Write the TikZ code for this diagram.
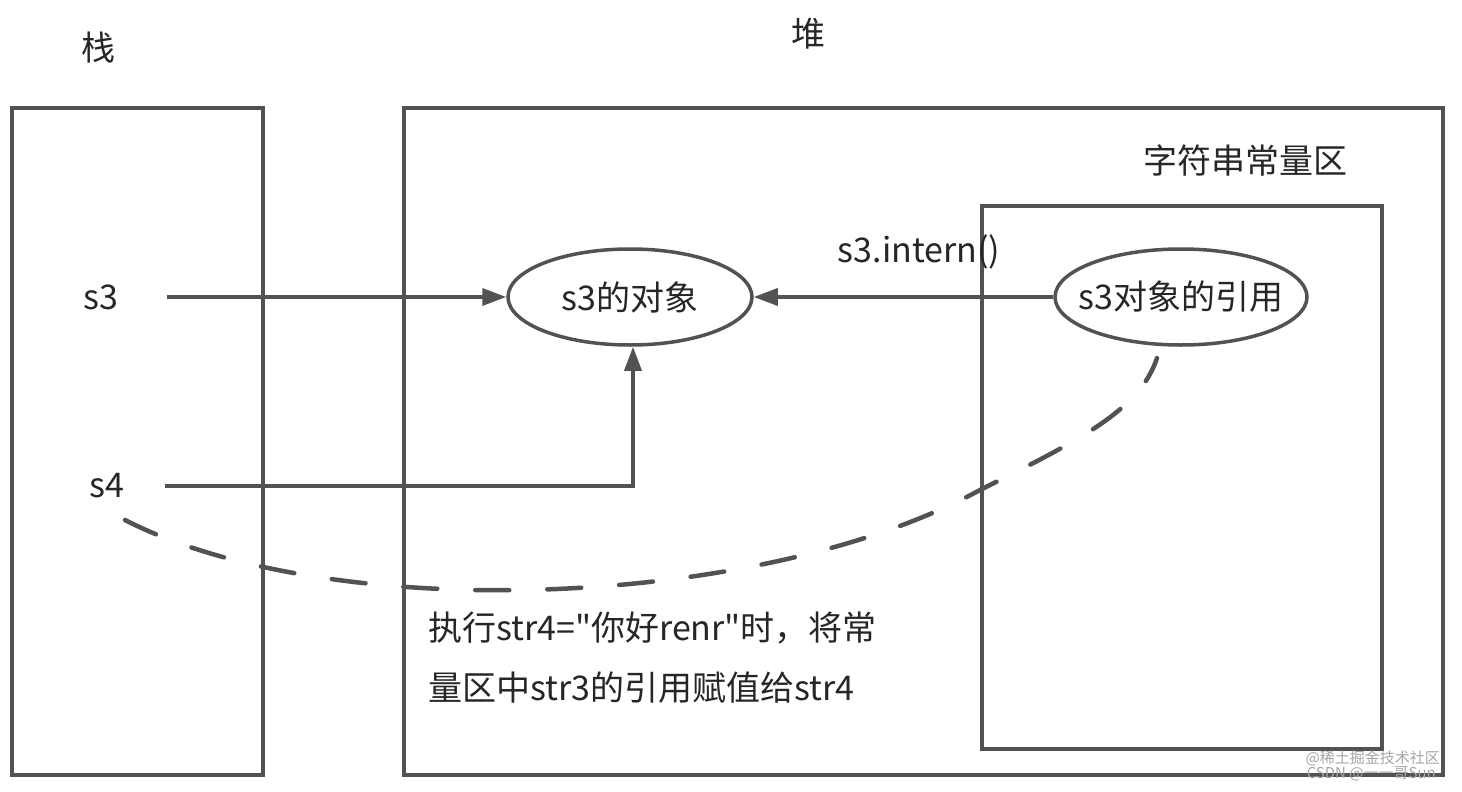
\documentclass[tikz,border=0pt]{standalone}
\usepackage{fontspec}
\setmainfont{Noto Sans CJK SC}[Ligatures=TeXOff]
\usetikzlibrary{arrows.meta,shapes.geometric}
\begin{document}
\begin{tikzpicture}[x=1pt,y=-1pt,
  box/.style={draw=black!68, line width=3.5pt},
  lbl/.style={font=\fontsize{34}{40}\selectfont, text=black!85, inner sep=0pt},
  notelbl/.style={font=\fontsize{34}{40}\selectfont, text=black!85, inner sep=0pt},
  oval/.style={ellipse, draw=black!68, line width=3.5pt, minimum width=244pt, minimum height=96pt, inner sep=0pt, font=\fontsize{34}{40}\selectfont, text=black!85},
  conn/.style={draw=black!68, line width=3.5pt, -{Triangle[length=24pt,width=17pt]}},
  dashcurve/.style={draw=black!68, line width=4.5pt, line cap=round, dash pattern=on 34pt off 38pt},
  wm/.style={font=\fontsize{15}{16}\selectfont, text=black!35, inner sep=0pt}
]
\useasboundingbox (0,0) rectangle (1462,792);
\fill[white] (0,0) rectangle (1462,792);
% frames
\node[box, minimum width=251pt, minimum height=667pt, inner sep=0pt] (stack) at (137.5,441.5) {};
\node[box, minimum width=1039pt, minimum height=667pt, inner sep=0pt] (heap) at (923.5,441.5) {};
\node[box, minimum width=400pt, minimum height=543pt, inner sep=0pt] (pool) at (1182,477.5) {};
% titles
\node[lbl] (tstack) at (98,48) {栈};
\node[lbl] (theap) at (808,34) {堆};
\node[lbl] (tpool) at (1245,160) {字符串常量区};
% ellipses
\node[oval] (obj) at (630,297) {\makebox[0pt]{s3的对象}};
\node[oval, minimum width=252pt] (ref) at (1181,297) {\makebox[0pt]{s3对象的引用}};
% stack vars
\node[lbl] (s3) at (101,297) {s3};
\node[lbl] (s4) at (107,486) {s4};
% arrows
\draw[conn] ([xshift=48pt]s3.east) -- (obj.west);
\draw[conn] (ref.west) -- (obj.east);
\node[lbl] (intern) at (919,252) {s3.intern()};
\coordinate (bend) at (633,486);
\draw[conn] ([xshift=40pt]s4.east) -- (bend) -- (obj.south -| bend);
% dashed curve
\coordinate (d0) at (125,520);
\coordinate (d1) at (1157,358);
\draw[dashcurve] (d0) .. controls (330,625) and (760,610) .. (980,490) .. controls (1080,440) and (1140,410) .. (d1);
% note
\node[notelbl, anchor=west] (note1) at (428,628) {执行str4="你好renr"时，将常};
\node[notelbl, anchor=west] (note2) at (428,688) {量区中str3的引用赋值给str4};
% watermark
\node[wm, anchor=east] (wm1) at (1440,758) {@稀土掘金技术社区};
\node[wm, anchor=east] (wm2) at (1436,774) {CSDN @一一哥Sun};
\end{tikzpicture}
\end{document}
